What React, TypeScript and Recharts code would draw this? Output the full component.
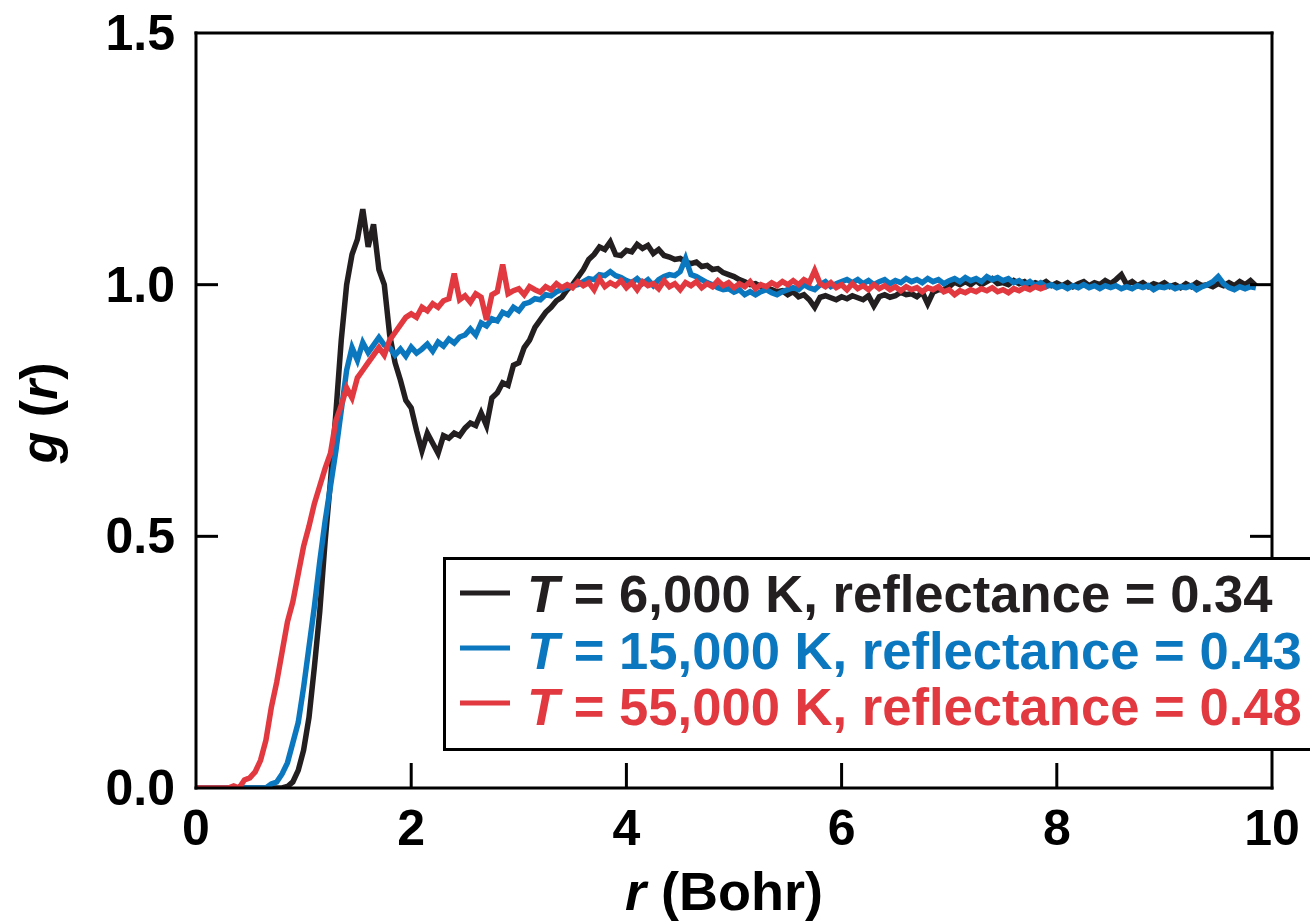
import React from 'react';
import { LineChart, Line, XAxis, YAxis } from 'recharts';

// radial distribution g(r), sampled every 0.05 Bohr starting at r = 0
const R_STEP = 0.05;

const g6000 = [
  0, 0, 0, 0, 0, 0, 0, 0, 0, 0,
  0, 0, 0, 0, 0, 0, 0, 0.003, 0.012, 0.035,
  0.075, 0.14, 0.24, 0.35, 0.49, 0.61, 0.745, 0.89, 1.0, 1.06,
  1.09, 1.15, 1.075, 1.12, 1.03, 1.0, 0.9, 0.845, 0.81, 0.77,
  0.755, 0.71, 0.67, 0.705, 0.685, 0.665, 0.7, 0.695, 0.705, 0.7,
  0.715, 0.725, 0.72, 0.745, 0.72, 0.775, 0.785, 0.805, 0.8, 0.84,
  0.845, 0.875, 0.89, 0.915, 0.93, 0.945, 0.955, 0.968, 0.975, 0.99,
  1.0, 1.015, 1.03, 1.05, 1.06, 1.075, 1.07, 1.085, 1.06, 1.058,
  1.068, 1.065, 1.08, 1.072, 1.078, 1.062, 1.07, 1.058, 1.055, 1.05,
  1.052, 1.045, 1.042, 1.045, 1.036, 1.038, 1.03, 1.032, 1.024, 1.02,
  1.016, 1.01, 1.006, 1.0, 1.002, 0.996, 0.995, 0.99, 0.986, 0.988,
  0.98, 0.986, 0.976, 0.98, 0.97, 0.955, 0.975, 0.978, 0.974, 0.97,
  0.976, 0.972, 0.978, 0.974, 0.97, 0.978, 0.958, 0.976, 0.98, 0.975,
  0.978, 0.985, 0.98, 0.982, 0.976, 0.985, 0.962, 0.985, 0.99, 0.99,
  0.996, 1.005, 1.0, 1.006, 1.0, 1.008, 1.0, 1.006, 1.012, 1.002,
  1.004, 1.0, 1.008, 1.002, 1.006, 0.998, 1.004, 1.0, 1.006, 0.998,
  1.003, 0.998, 1.004, 0.996, 1.002, 1.006, 0.998, 1.004, 1.0, 1.008,
  1.002, 1.01, 1.02, 1.0, 1.006, 0.998, 1.004, 0.996, 1.002, 0.998,
  1.004, 0.996, 1.0, 0.994, 1.002, 0.996, 1.004, 0.998, 1.0, 0.996,
  1.002, 0.998, 1.004, 0.998, 1.006, 1.0, 1.008, 0.998,
];

const g15000 = [
  0, 0, 0, 0, 0, 0, 0, 0, 0, 0,
  0, 0, 0, 0, 0.008, 0.012, 0.028, 0.05, 0.09, 0.13,
  0.2, 0.28, 0.36, 0.45, 0.53, 0.6, 0.67, 0.75, 0.83, 0.875,
  0.85, 0.885, 0.865, 0.88, 0.895, 0.88, 0.875, 0.86, 0.872, 0.858,
  0.876, 0.864, 0.872, 0.882, 0.868, 0.886, 0.878, 0.892, 0.884, 0.896,
  0.9, 0.912, 0.9, 0.924, 0.918, 0.932, 0.928, 0.945, 0.94, 0.955,
  0.948, 0.962, 0.965, 0.972, 0.97, 0.98, 0.978, 0.986, 0.99, 0.994,
  0.998, 1.0, 1.006, 1.012, 1.01, 1.02, 1.018, 1.026, 1.018, 1.014,
  1.008, 1.004, 1.012, 1.002, 1.01, 0.998, 1.01, 1.016, 1.02, 1.018,
  1.026, 1.052, 1.02, 1.016, 1.01, 1.004, 1.0, 0.994, 0.99, 0.992,
  0.985, 0.99, 0.98, 0.986, 0.98, 0.986, 0.99, 0.984, 0.98, 0.986,
  0.99, 0.994, 0.99, 1.0, 0.994, 0.99, 1.0, 1.006, 0.996, 1.002,
  1.006, 1.01, 1.004, 1.01, 1.002, 1.008, 1.0, 1.006, 1.01, 1.002,
  1.008, 1.004, 1.012, 1.006, 1.01, 1.004, 1.012, 1.006, 1.01, 1.002,
  1.008, 1.012, 1.006, 1.014, 1.008, 1.012, 1.006, 1.016, 1.01, 1.014,
  1.008, 1.012, 1.004, 1.008, 1.0, 1.006, 0.998, 1.004, 0.996, 1.0,
  0.994, 0.998, 0.992, 0.998, 0.994, 1.0, 0.994, 0.998, 0.992, 0.998,
  0.994, 0.998, 0.992, 0.996, 0.992, 0.998, 0.994, 0.998, 0.99, 0.996,
  0.994, 0.998, 0.992, 0.996, 0.994, 0.998, 0.99, 0.996, 1.0, 1.006,
  1.016, 1.002, 0.994, 0.99, 0.996, 0.992, 0.996, 0.994,
];

// 55,000 K run stops at 7.9 Bohr
const g55000 = [
  0, 0, 0, 0, 0, 0, 0, 0.004, 0, 0.016,
  0.02, 0.032, 0.055, 0.095, 0.16, 0.21, 0.27, 0.33, 0.37, 0.425,
  0.48, 0.52, 0.565, 0.6, 0.635, 0.665, 0.73, 0.76, 0.795, 0.775,
  0.815, 0.83, 0.845, 0.86, 0.875, 0.86, 0.89, 0.905, 0.92, 0.935,
  0.942, 0.935, 0.955, 0.948, 0.962, 0.955, 0.968, 0.972, 1.022, 0.97,
  0.978, 0.965, 0.982, 0.975, 0.93, 0.98, 0.986, 1.04, 0.982, 0.988,
  0.992, 0.98, 0.996, 0.99, 0.985, 0.996, 0.99, 1.002, 0.994, 1.0,
  0.994, 1.006, 0.998, 1.004, 0.99, 1.012, 0.996, 1.004, 0.998, 1.008,
  0.994, 1.004, 0.99, 1.006, 0.998, 1.002, 0.992, 1.008, 0.996, 1.002,
  0.99, 1.004, 0.998, 1.006, 0.994, 1.002, 0.996, 1.008, 0.998, 1.004,
  0.994, 1.002, 0.996, 1.006, 0.992, 1.0, 0.996, 1.004, 0.998, 1.006,
  1.0, 1.008, 1.0, 1.01, 1.004, 1.028, 1.002, 0.996, 1.004, 0.994,
  1.0, 0.99, 1.002, 0.992, 0.998, 0.99, 1.0, 0.992, 0.998, 0.99,
  0.996, 0.988, 0.996, 0.99, 0.994, 0.986, 0.994, 0.99, 0.996, 0.986,
  0.99, 0.98, 0.988, 0.984, 0.99, 0.986, 0.992, 0.988, 0.994, 0.986,
  0.99, 0.984, 0.992, 0.988, 0.994, 0.99, 0.996, 0.992, 0.996,
];

const xTicks = [0, 2, 4, 6, 8, 10];
const yTicks = [0, 0.5, 1.0, 1.5];

const series = [
  { key: 'g6000', temp: '6,000', refl: '0.34', color: '#231f20' },
  { key: 'g15000', temp: '15,000', refl: '0.43', color: '#0b77be' },
  { key: 'g55000', temp: '55,000', refl: '0.48', color: '#e1393f' },
];

const data = g6000.map((g, i) => ({
  r: +(i * R_STEP).toFixed(2),
  g6000: g,
  g15000: g15000[i],
  g55000: g55000[i],
}));

const FONT = '"Liberation Sans", Arial, Helvetica, sans-serif';
const frame = { stroke: '#000', strokeWidth: 3, strokeLinecap: 'square' as const };

const LeftTick = (props: any) => {
  const { x, y, payload } = props;
  const v = payload.value;
  return (
    <g>
      {v > 0 && v < 1.5 && <line x1={x} y1={y} x2={x + 22} y2={y} stroke="#000" strokeWidth={3} />}
      <text x={x - 21} y={y + 17} textAnchor="end" fontFamily={FONT} fontWeight="bold" fontSize={50} fill="#000">
        {v.toFixed(1)}
      </text>
    </g>
  );
};

const RightTick = (props: any) => {
  const { x, y, payload } = props;
  const v = payload.value;
  if (!(v > 0 && v < 1.5)) return <g />;
  return <line x1={x - 22} y1={y} x2={x} y2={y} stroke="#000" strokeWidth={3} />;
};

const BottomTick = (props: any) => {
  const { x, y, payload } = props;
  const v = payload.value;
  return (
    <g>
      {v > 0 && v < 10 && <line x1={x} y1={y} x2={x} y2={y - 25} stroke="#000" strokeWidth={3} />}
      <text x={x} y={y + 57} textAnchor="middle" fontFamily={FONT} fontWeight="bold" fontSize={50} fill="#000">
        {v}
      </text>
    </g>
  );
};

const XTitle = (props: any) => {
  const vb = props.viewBox || { x: 196, y: 788, width: 1076 };
  return (
    <text x={vb.x + vb.width / 2 - 10} y={910} textAnchor="middle" fontFamily={FONT} fontWeight="bold" fontSize={54} fill="#000">
      <tspan fontStyle="italic">r</tspan>
      {' (Bohr)'}
    </text>
  );
};

const YTitle = () => (
  <text x={57} y={413} transform="rotate(-90, 57, 413)" textAnchor="middle" fontFamily={FONT} fontWeight="bold" fontSize={52} fill="#000">
    <tspan fontStyle="italic">g</tspan>
    {' ('}
    <tspan fontStyle="italic">r</tspan>
    {')'}
  </text>
);

const LegendBox = () => (
  <div
    style={{
      position: 'absolute',
      left: 443,
      top: 557,
      width: 900,
      height: 194,
      border: '3px solid #000',
      boxSizing: 'border-box',
      background: '#fff',
    }}
  >
    <svg width={900} height={190} style={{ display: 'block' }}>
      {series.map((s, i) => (
        <g key={s.key}>
          <line x1={14} x2={64} y1={33 + i * 55} y2={33 + i * 55} stroke={s.color} strokeWidth={5} />
          <text x={81} y={52 + i * 56.5} fontFamily={FONT} fontWeight="bold" fontSize={52.6} fill={s.color}>
            <tspan fontStyle="italic">T</tspan>
            {` = ${s.temp} K, reflectance = ${s.refl}`}
          </text>
        </g>
      ))}
    </svg>
  </div>
);

export default function App() {
  return (
    <div style={{ position: 'absolute', left: 0, top: 0, width: 1310, height: 924, overflow: 'hidden', background: '#fff' }}>
      <LineChart width={1310} height={924} data={data} margin={{ top: 28, right: 28, bottom: 106, left: 136 }}>
        <XAxis
          xAxisId="b"
          dataKey="r"
          type="number"
          domain={[0, 10]}
          ticks={xTicks}
          interval={0}
          tick={<BottomTick />}
          tickLine={false}
          tickSize={0}
          tickMargin={0}
          axisLine={frame}
          height={30}
          label={<XTitle />}
        />
        <XAxis xAxisId="t" orientation="top" dataKey="r" type="number" domain={[0, 10]} tick={false} tickLine={false} axisLine={frame} height={5} />
        <YAxis
          yAxisId="l"
          type="number"
          domain={[0, 1.5]}
          allowDataOverflow
          ticks={yTicks}
          interval={0}
          tick={<LeftTick />}
          tickLine={false}
          tickSize={0}
          tickMargin={0}
          axisLine={frame}
          width={60}
          label={<YTitle />}
        />
        <YAxis
          yAxisId="r"
          orientation="right"
          type="number"
          domain={[0, 1.5]}
          allowDataOverflow
          ticks={yTicks}
          interval={0}
          tick={<RightTick />}
          tickLine={false}
          tickSize={0}
          tickMargin={0}
          axisLine={frame}
          width={10}
        />
        {series.map((s) => (
          <Line
            key={s.key}
            xAxisId="b"
            yAxisId="l"
            type="linear"
            dataKey={s.key}
            stroke={s.color}
            strokeWidth={5.5}
            dot={false}
            activeDot={false}
            isAnimationActive={false}
          />
        ))}
      </LineChart>
      <LegendBox />
    </div>
  );
}
